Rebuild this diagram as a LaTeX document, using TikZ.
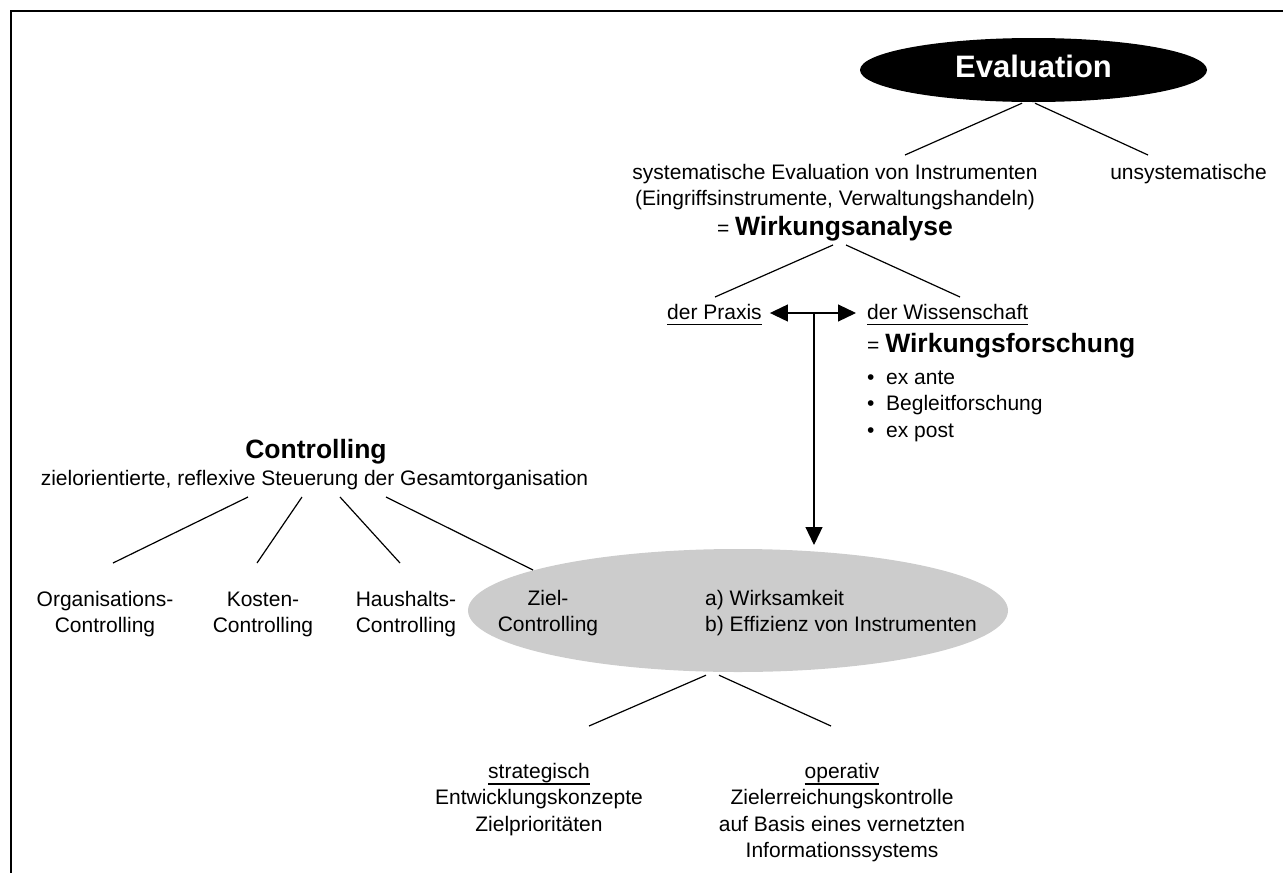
\documentclass[tikz,border=0pt]{standalone}
\usepackage{fontspec}
\setmainfont{Liberation Sans}
\usetikzlibrary{arrows.meta,shapes.geometric}
\newcommand\fr{\fontsize{21}{26.5}\selectfont}
\newcommand\fbig{\bfseries\fontsize{26.5}{30}\selectfont}
\newcommand\myul[1]{\setbox0\hbox{#1}\rlap{\rule[-6.4pt]{\wd0}{1.3pt}}\box0}
\definecolor{zielgray}{RGB}{204,204,204}
\tikzset{tri/.tip={Triangle[length=18pt,width=17pt]}}
\begin{document}
\begin{tikzpicture}[x=1pt,y=-1pt,
  txt/.style={inner sep=0pt, font=\fr},
  multi/.style={txt, align=center, anchor=north},
  conn/.style={line width=1.2pt},
]
\useasboundingbox (0,0) rectangle (1283,873);
\draw[line width=1.6pt] (11,873) -- (11,11) -- (1283,11);

% Evaluation branch
\node[ellipse, fill=black, minimum width=347pt, minimum height=64pt, inner sep=0pt,
      text=white, font=\bfseries\fontsize{31}{36}\selectfont, text height=22pt, text depth=8pt]
      (eval) at (1033.5,70) {Evaluation};
\node[multi] (sys) at (835,160.45) {\strut systematische Evaluation von Instrumenten\\(Eingriffsinstrumente, Verwaltungshandeln)};
\node[txt, anchor=base] (unsys) at (1188.5,179) {unsystematische};
\node[txt, anchor=base] (wa) at (835,235) {= {\fbig Wirkungsanalyse}};
\node[txt, anchor=base west] (praxis) at (667,319) {\myul{der Praxis}};
\node[txt, anchor=base west] (wiss) at (867,319) {\myul{der Wissenschaft}};
\node[txt, anchor=base west] (wf) at (867,352) {= {\fbig Wirkungsforschung}};
\node[txt, align=left, anchor=north west] (bul) at (867,365.45)
  {\strut\makebox[19pt][l]{•}ex ante\\\makebox[19pt][l]{•}Begleitforschung\\\makebox[19pt][l]{•}ex post};
\coordinate (mid) at (814,313);

% Controlling branch
\node[txt, anchor=base, font=\fbig] (ctrl) at (316,458) {Controlling};
\node[txt, anchor=base] (ctrlsub) at (314.5,485) {zielorientierte, reflexive Steuerung der Gesamtorganisation};
\node[multi] (org) at (105,587.45) {\strut Organisations-\\Controlling};
\node[multi] (kost) at (263,587.45) {\strut Kosten-\\Controlling};
\node[multi] (haus) at (406,587.45) {\strut Haushalts-\\Controlling};
\node[ellipse, fill=zielgray, minimum width=540pt, minimum height=123pt, inner sep=0pt] (ziel) at (738,610.5) {};
\node[multi] (zc) at (548,586.45) {\strut Ziel-\\Controlling};
\node[txt, align=left, anchor=north west] (za) at (705,586.45) {\strut a) Wirksamkeit\\b) Effizienz von Instrumenten};

\node[multi] (strat) at (539,759.45) {\strut\myul{strategisch}\\Entwicklungskonzepte\\Zielprioritäten};
\node[multi] (oper) at (842,759.45) {\strut\myul{operativ}\\Zielerreichungskontrolle\\auf Basis eines vernetzten\\Informationssystems};

% connectors
\draw[conn] ([shift={(-11.5,1)}]eval.south) -- ([shift={(70,-5.45)}]sys.north);
\draw[conn] ([shift={(1.5,1)}]eval.south) -- ([shift={(-40.5,-24)}]unsys.base);
\draw[conn] ([shift={(-2,10)}]wa.base) -- ([shift={(48,-22)}]praxis.base west);
\draw[conn] ([shift={(11,10)}]wa.base) -- ([shift={(93,-22)}]wiss.base west);
\draw[conn, tri-tri] ([shift={(8,-6)}]praxis.base east) -- ([shift={(-11,-6)}]wiss.base west);
\draw[conn, -tri] (mid) -- ([shift={(76,-65.5)}]ziel.center);

\draw[conn] ([shift={(-66.5,12)}]ctrlsub.base) -- ([shift={(8,-24.45)}]org.north);
\draw[conn] ([shift={(-12.5,12)}]ctrlsub.base) -- ([shift={(-6,-24.45)}]kost.north);
\draw[conn] ([shift={(25.5,12)}]ctrlsub.base) -- ([shift={(-6,-24.45)}]haus.north);
\draw[conn] ([shift={(71.5,12)}]ctrlsub.base) -- ([shift={(-205,-40.5)}]ziel.center);

\draw[conn] ([shift={(-32,3)}]ziel.south) -- ([shift={(50,-33.45)}]strat.north);
\draw[conn] ([shift={(-19,3)}]ziel.south) -- ([shift={(-11,-33.45)}]oper.north);
\end{tikzpicture}
\end{document}
